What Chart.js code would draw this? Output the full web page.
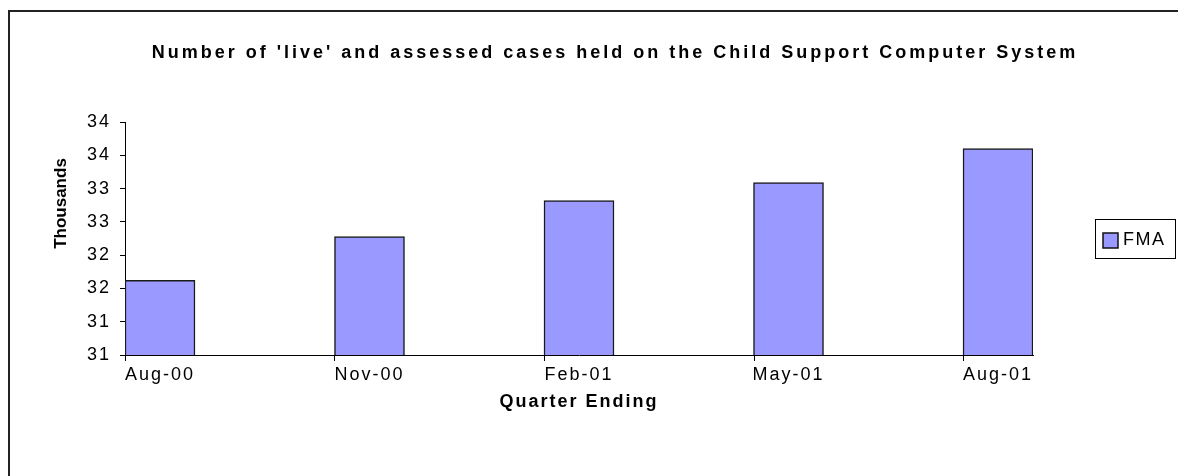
<!DOCTYPE html>
<html>
<head>
<meta charset="utf-8">
<script src="https://cdn.jsdelivr.net/npm/chart.js@4"></script>
<style>
  html, body { margin: 0; padding: 0; background: #fff; }
  #wrap { width: 1178px; height: 476px; position: relative; }
</style>
</head>
<body>
<div id="wrap"><canvas id="casesChart"></canvas></div>
<script>
const quarters = ['Aug-00', 'Nov-00', 'Feb-01', 'May-01', 'Aug-01'];
const fmaCases = [31.62, 32.28, 32.82, 33.09, 33.60];
const yTicks = [30.5, 31, 31.5, 32, 32.5, 33, 33.5, 34];
const chartTitle = "Number of 'live' and assessed cases held on the Child Support Computer System";

const FONT = "'Liberation Sans', Arial, sans-serif";
const BAR_W = 70;
const SPACING = '2px';

// the original is stretched sideways, so horizontal text gets a bit of spacing
const spacing = {
    id: 'spacing',
    beforeUpdate(chart) { chart.ctx.letterSpacing = SPACING; },
    beforeDraw(chart) { chart.ctx.letterSpacing = SPACING; }
};

// outer frame, title, legend box and x tick marks at the bar left edges
const extras = {
    id: 'extras',
    beforeDraw(chart) {
        const ctx = chart.ctx;
        ctx.save();
        ctx.strokeStyle = '#222';
        ctx.lineWidth = 2;
        ctx.beginPath();
        ctx.moveTo(9, chart.height);
        ctx.lineTo(9, 11);
        ctx.lineTo(chart.width, 11);
        ctx.stroke();

        ctx.fillStyle = '#000';
        ctx.font = 'bold 18px ' + FONT;
        ctx.letterSpacing = '3px';
        ctx.textAlign = 'center';
        ctx.textBaseline = 'middle';
        ctx.fillText(chartTitle, 615, 53);
        ctx.restore();
    },
    afterDraw(chart) {
        const ctx = chart.ctx;
        const area = chart.chartArea;
        const meta = chart.getDatasetMeta(0);
        ctx.save();
        ctx.strokeStyle = '#000';
        ctx.lineWidth = 1;
        meta.data.forEach(bar => {
            const x = Math.round(bar.x - bar.width / 2) + 0.5;
            ctx.beginPath();
            ctx.moveTo(x, area.bottom);
            ctx.lineTo(x, area.bottom + 6);
            ctx.stroke();
        });

        // legend
        const ds = chart.data.datasets[0];
        ctx.strokeRect(1095.5, 219.5, 80, 39);
        ctx.fillStyle = ds.backgroundColor;
        ctx.fillRect(1103, 233, 15, 15);
        ctx.strokeStyle = '#111';
        ctx.lineWidth = 1.5;
        ctx.strokeRect(1103, 233, 15, 15);
        ctx.fillStyle = '#000';
        ctx.font = '18px ' + FONT;
        ctx.letterSpacing = '1.5px';
        ctx.textBaseline = 'middle';
        ctx.textAlign = 'left';
        ctx.fillText(ds.label, 1123, 240);
        ctx.restore();
    }
};

new Chart(document.getElementById('casesChart').getContext('2d'), {
    type: 'bar',
    data: {
        datasets: [{
            label: 'FMA',
            data: fmaCases.map((v, i) => ({ x: i, y: v })),
            backgroundColor: '#9999ff',
            borderColor: '#1a1a1a',
            borderWidth: 1.5,
            barThickness: BAR_W
        }]
    },
    options: {
        responsive: true,
        maintainAspectRatio: false,
        animation: false,
        layout: {
            padding: { top: 122, right: 145, bottom: 0, left: 0 }
        },
        plugins: {
            legend: { display: false },
            tooltip: { enabled: false },
            title: { display: false }
        },
        scales: {
            x: {
                type: 'linear',
                offset: false,
                min: -0.167,
                max: 4.167,
                afterBuildTicks: s => { s.ticks = quarters.map((q, i) => ({ value: i })); },
                afterFit: s => { s.height = 121; },
                ticks: {
                    autoSkip: false,
                    maxRotation: 0,
                    padding: 1,
                    color: '#000',
                    font: { family: FONT, size: 18 },
                    callback: v => quarters[v]
                },
                grid: { display: false },
                border: { display: true, color: '#000', width: 1 },
                title: {
                    display: true,
                    text: 'Quarter Ending',
                    color: '#000',
                    font: { family: FONT, size: 18, weight: 'bold' },
                    padding: { top: 0, bottom: 63 }
                }
            },
            y: {
                min: 30.5,
                max: 34,
                afterBuildTicks: s => { s.ticks = yTicks.map(v => ({ value: v })); },
                afterFit: s => { s.width = 125; },
                afterUpdate: s => {
                    // the rotated title sits higher and is not spread out
                    if (!s._titlePatched) {
                        const base = s.drawTitle;
                        s.drawTitle = function () {
                            const ctx = this.ctx;
                            ctx.save();
                            ctx.letterSpacing = '0px';
                            ctx.translate(0, -35);
                            base.apply(this, arguments);
                            ctx.restore();
                        };
                        s._titlePatched = true;
                    }
                },
                ticks: {
                    padding: 9,
                    color: '#000',
                    font: { family: FONT, size: 18 },
                    callback: v => Math.round(v)
                },
                grid: { drawOnChartArea: false, drawTicks: true, tickLength: 5, color: '#000' },
                border: { display: true, color: '#000', width: 1 },
                title: {
                    display: true,
                    text: 'Thousands',
                    color: '#000',
                    font: { family: FONT, size: 17, weight: 'bold' },
                    padding: { top: 51, bottom: 0 }
                }
            }
        }
    },
    plugins: [spacing, extras]
});
</script>
</body>
</html>
